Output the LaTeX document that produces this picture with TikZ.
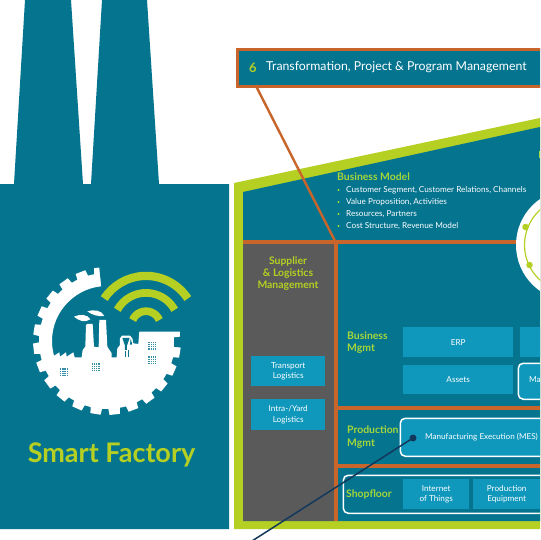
\documentclass[tikz,border=0pt]{standalone}
\usepackage{fontspec}
\setmainfont{Lato}
\definecolor{teal1}{HTML}{04748F}
\definecolor{lime1}{HTML}{B5D022}
\definecolor{org1}{HTML}{C8652B}
\definecolor{gray1}{HTML}{5A5A5A}
\definecolor{box1}{HTML}{0F98BC}
\definecolor{grn1}{HTML}{A5D63A}
\definecolor{navy1}{HTML}{12385C}
\tikzset{x=1pt,y=-1pt,
 cell/.style={fill=box1,text=white,align=center,inner sep=0pt,anchor=north west,font=\fontsize{8.2}{10.7}\selectfont},
 celltext/.style={text=white,align=center,inner sep=0pt,font=\fontsize{8.2}{10.7}\selectfont},
 head/.style={text=grn1,font=\fontsize{10.4}{12.8}\selectfont\bfseries,align=left,anchor=west,inner sep=0pt},
 bodytext/.style={text=white,anchor=west,inner sep=0pt,font=\fontsize{8.2}{10}\selectfont},
 orgline/.style={draw=org1,line width=4pt},
 whitebox/.style={draw=white,fill=box1,line width=1.5pt,rounded corners=5pt},
 bullet/.style={fill=grn1,circle,inner sep=0pt,minimum size=2.2pt},
 ringdot/.style={fill=lime1,circle,inner sep=0pt,minimum size=6.5pt}}
\begin{document}
\begin{tikzpicture}
\useasboundingbox (0,0) rectangle (540,540);
\clip (0,0) rectangle (540,540);
\fill[white] (0,0) rectangle (540,540);
% building silhouette
\fill[teal1] (0,184) -- (14,184) -- (25,0) -- (71,0) -- (83,184) -- (91,184) -- (102,0) -- (147,0) -- (159,184) -- (229,184) -- (229,529) -- (0,529) -- cycle;
% gear
\begin{scope}[shift={(107,341)},x=1pt,y=1pt]
 \fill[white,even odd rule] (0,0) circle (68) (0,0) circle (55);
 \foreach \a in {96,111,...,351} \fill[white] (\a-5:67) -- (\a-4:74) -- (\a+4:74) -- (\a+5:67) -- cycle;
 \fill[teal1] (0,0) -- (96:80) -- (60:85) -- (30:85) -- (0:85) -- (-5:85) -- cycle;
\end{scope}
% wifi
\begin{scope}[shift={(146,325.7)},x=1pt,y=1pt]
 \draw[lime1,line width=8.3pt] (33:49.8) arc (33:147:49.8);
 \draw[lime1,line width=7.7pt] (29:32.8) arc (29:151:32.8);
 \draw[lime1,line width=7.7pt] (23:14.5) arc (23:157:14.5);
\end{scope}
% factory
\begin{scope}[x=0.3333pt,y=-0.3333pt,yshift=-180pt]
 \fill[white] (155,530) -- (158,530) -- (178,517) -- (180,530) -- (198,517) -- (200,530) -- (220,517) -- (224,532) -- (245,532) -- (248,510) -- (256,500) -- (258,435) -- (262,432) -- (278,432) -- (282,500) -- (296,502) -- (298,420) -- (318,420) -- (322,500) -- (335,520) -- (335,532) -- (350,532) -- (352,505) -- (360,495) -- (360,475) -- (366,467) -- (390,467) -- (397,475) -- (400,490) -- (415,492) -- (418,455) -- (540,455) -- (540,470) -- (522,472) -- (522,502) -- (512,502) -- (480,600) -- (321,672) -- (170,612) -- (125,530) -- cycle;
 \fill[white] (222,410) .. controls (240,402) and (262,402) .. (271,418) .. controls (255,428) and (240,425) .. cycle;
 \fill[white] (262,394) .. controls (280,388) and (305,390) .. (313,408) .. controls (295,410) and (275,405) .. cycle;
 \fill[teal1] (367,474) -- (389,474) -- (381,497) -- (381,510) -- (375,510) -- (375,497) -- cycle;
 \fill[teal1] (374,514) rectangle (378,532);
 \fill[teal1] (383,510) rectangle (388,532);
 \fill[teal1] (392,476) -- (396,490) -- (396,494) -- (390,494) -- cycle;
 \foreach \cx/\cy in {192/577,287/562,457/497,457/541}
  \foreach \i in {-1.5,-0.5,0.5,1.5} \foreach \j in {-1.5,-0.5,0.5,1.5}
   \fill[teal1!80!white] (\cx+\i*6.5-1.8,\cy+\j*6.5-1.8) rectangle +(3.6,3.6);
\end{scope}
\node[text=lime1,inner sep=0pt,font=\fontsize{27}{29}\selectfont\bfseries] (sf) at (111.5,454.5) {Smart Factory};
% frame
\fill[lime1] (234,183) -- (540,118) -- (540,529) -- (234,529) -- cycle;
\fill[teal1] (243,192) -- (540,127) -- (540,521) -- (243,521) -- cycle;
\fill[gray1] (243,244) rectangle (334,521);
\coordinate (jn) at (335.5,242);
\draw[orgline] (243,242) -- (530,242);
\draw[orgline] (jn) -- (335.5,521);
\draw[orgline] (337,408) -- (540,408);
\draw[orgline] (337,466) -- (540,466);
% circle
\fill[white] (572,245) circle (56);
\draw[lime1,line width=1.2pt] (572,245) circle (47.5);
\node[ringdot] (d1) at (525.5,227) {};
\node[ringdot] (d2) at (529.5,265) {};
\fill[grn1] (538.5,151) rectangle (540,158);
% title
\node[draw=org1,line width=3pt,fill=teal1,minimum width=320pt,minimum height=37.5pt,anchor=north west,inner sep=0pt] (title) at (235.5,48) {};
\node[text=lime1,anchor=west,inner sep=0pt,font=\fontsize{13}{15}\selectfont\bfseries] (six) at (249,67.5) {6};
\node[text=white,anchor=west,inner sep=0pt,font=\fontsize{12.3}{14}\selectfont] (ttl) at (266,67.5) {Transformation, Project \& Program Management};
\coordinate (tl) at (255.5,85);
\draw[org1,line width=2.4pt] (tl) -- (jn);
% business model
\node[head] (bm) at (337,177) {Business Model};
\foreach \n/\yy/\t in {a/190/{Customer Segment, Customer Relations, Channels},b/202/{Value Proposition, Activities},c/214/{Resources, Partners},d/226/{Cost Structure, Revenue Model}} {
 \node[bullet] (bul\n) at (338.5,\yy) {};
 \node[bodytext] (txt\n) at (346,\yy) {\t};
}
% supplier
\node[text=lime1,align=center,inner sep=0pt,font=\fontsize{10.4}{12}\selectfont\bfseries] (sup) at (288,274) {Supplier\\\& Logistics\\Management};
\node[cell,minimum width=74pt,minimum height=30pt] (tr) at (251,356) {Transport\\Logistics};
\node[cell,minimum width=74pt,minimum height=31pt] (iy) at (251,399) {Intra-/Yard\\Logistics};
% business mgmt
\node[head] (bmg) at (347,342.5) {Business\\Mgmt};
\node[cell,minimum width=110pt,minimum height=30pt] (erp) at (403,327) {ERP};
\node[cell,minimum width=30pt,minimum height=30pt] (col2) at (520,327) {};
\node[cell,minimum width=110pt,minimum height=29pt] (as) at (403,365) {Assets};
\node[whitebox,minimum width=40pt,minimum height=36pt,anchor=north west,inner sep=0pt] (mabox) at (517.5,362.5) {};
\node[celltext,anchor=west] (ma) at (529,380) {Ma};
% production mgmt
\node[head] (pm) at (347,437) {Production\\Mgmt};
\node[whitebox,minimum width=160pt,minimum height=38pt,anchor=north west,inner sep=0pt] (mes) at (399.5,417.5) {};
\node[celltext,anchor=west,font=\fontsize{8.1}{9}\selectfont] (mest) at (425,437) {Manufacturing Execution (MES)};
% shopfloor
\node[draw=white,line width=1.5pt,rounded corners=5pt,minimum width=215pt,minimum height=38pt,anchor=north west,inner sep=0pt] (sh) at (342.5,474.5) {};
\node[head] (shf) at (346,494.5) {Shopfloor};
\node[cell,minimum width=66pt,minimum height=30pt] (iot) at (403,479) {Internet\\of Things};
\node[cell,minimum width=67pt,minimum height=30pt] (pe) at (473,479) {Production\\Equipment};
% pointer
\node[fill=navy1,circle,inner sep=0pt,minimum size=7pt] (pdot) at (413,438) {};
\coordinate (pend) at (252,541);
\draw[navy1,line width=1.5pt] (pdot.center) -- (pend);
\end{tikzpicture}
\end{document}
